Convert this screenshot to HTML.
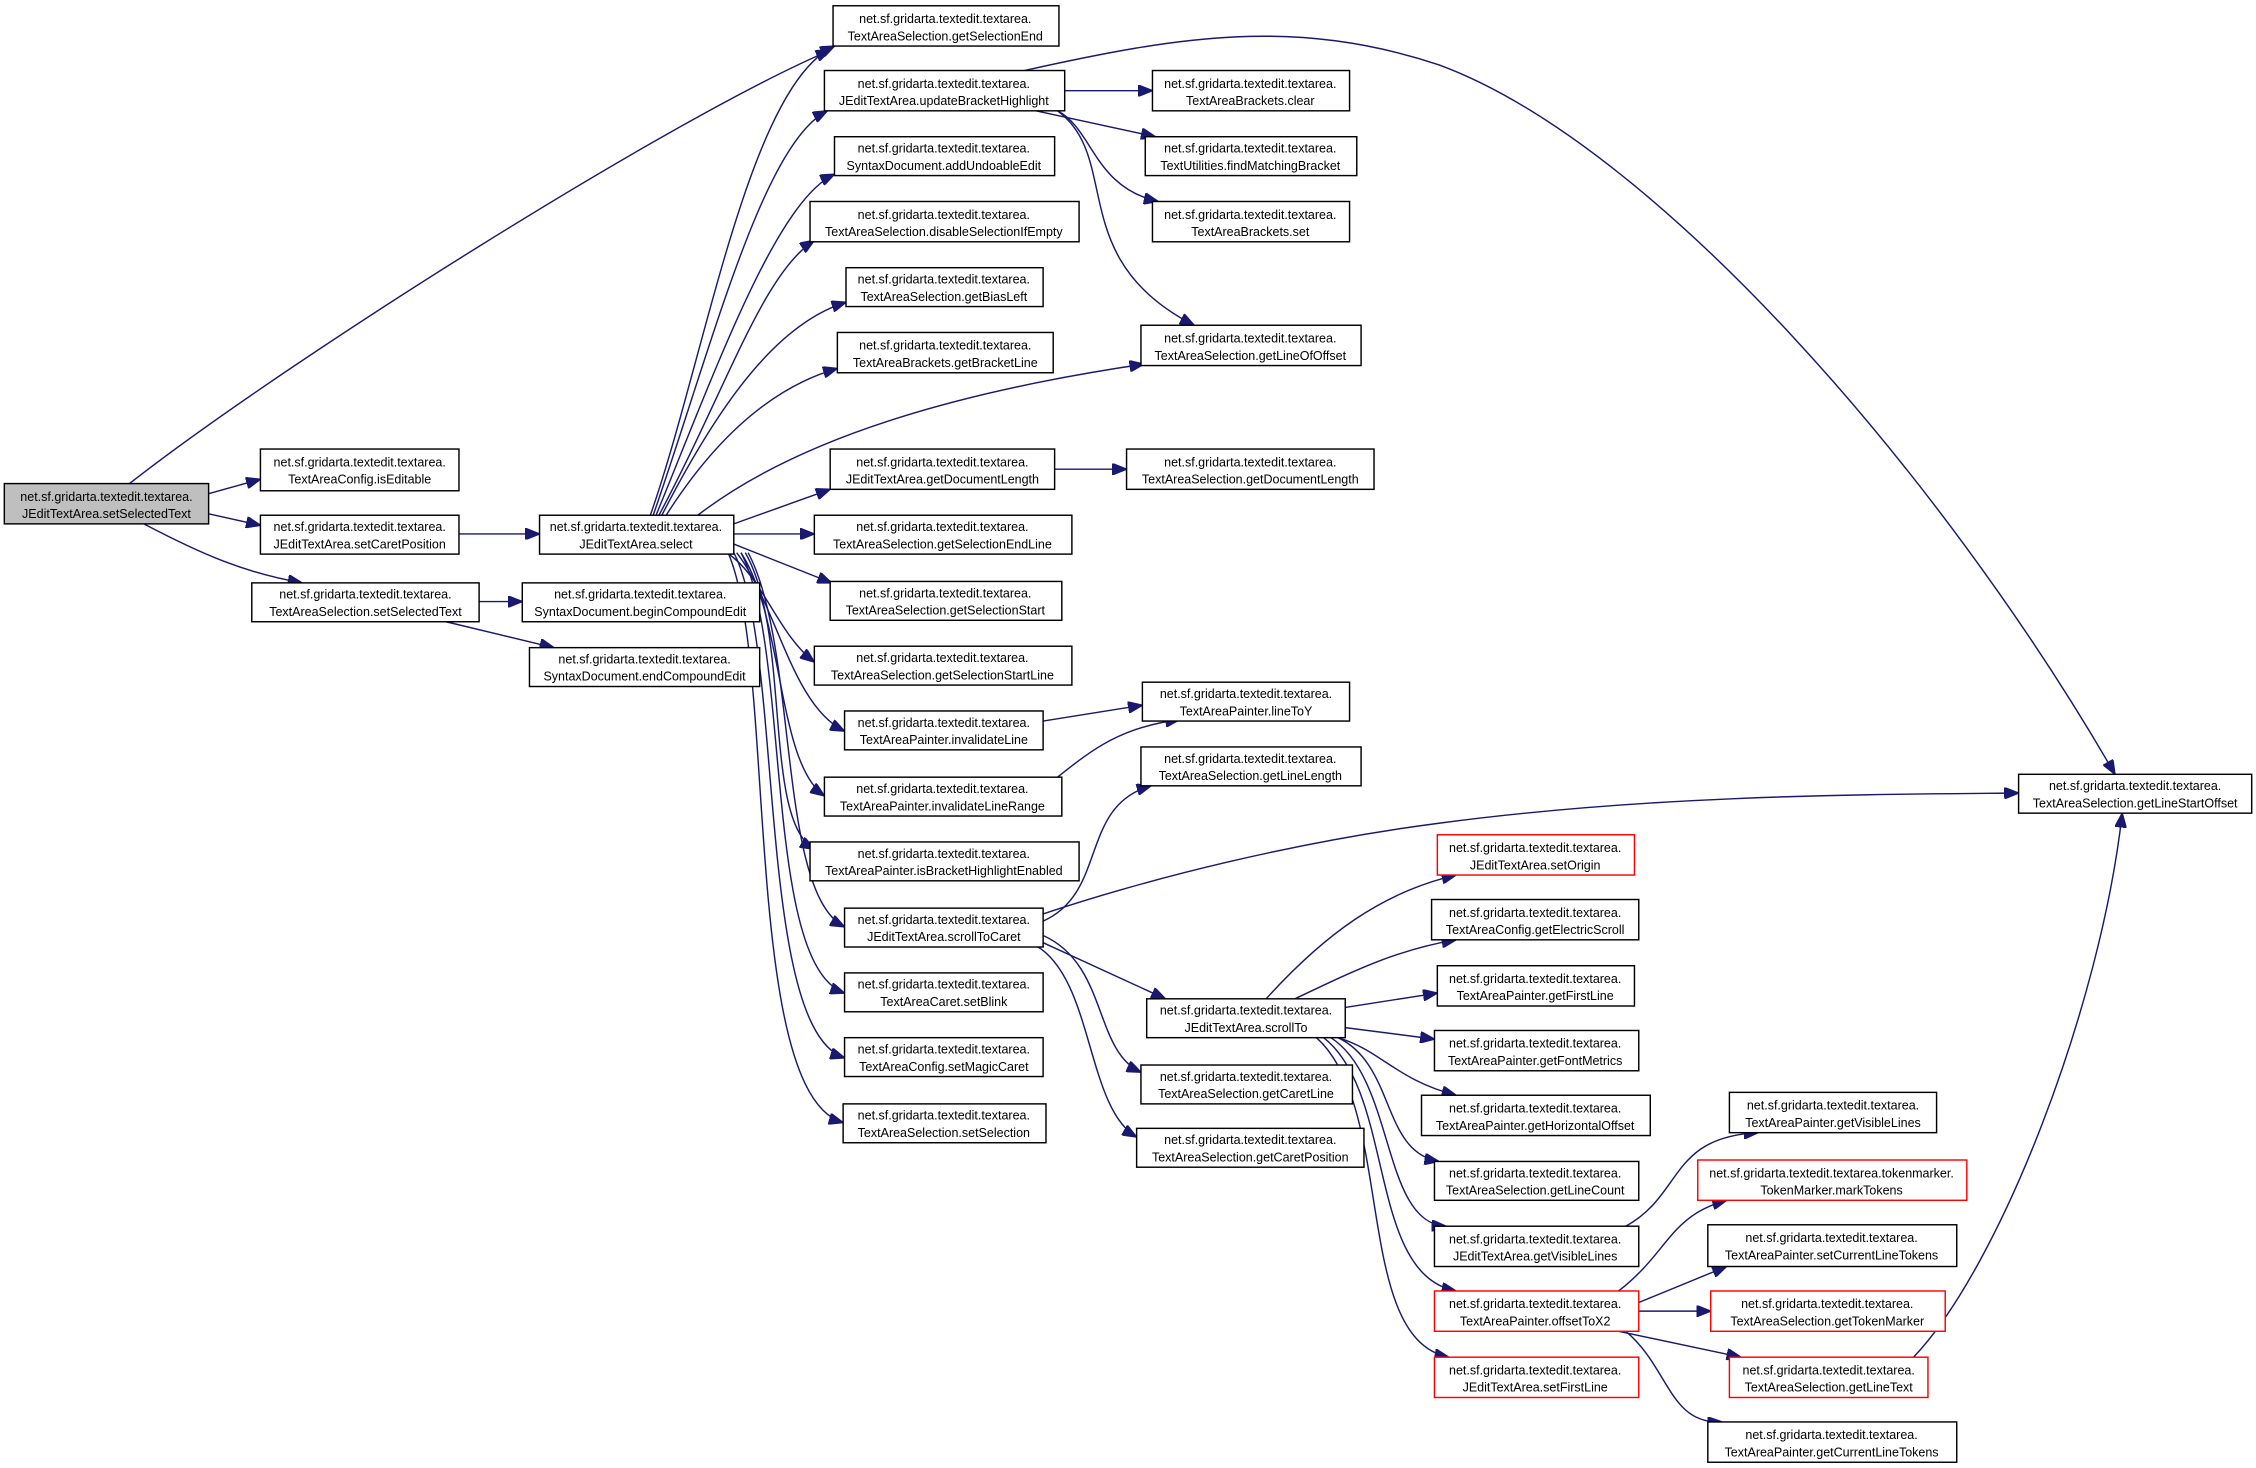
<!DOCTYPE html>
<html><head><meta charset="utf-8"><style>
html,body{margin:0;padding:0;background:#fff;}
svg{display:block;}
text{font-family:"Liberation Sans",Arial,sans-serif;font-size:8.7px;fill:#000;text-anchor:middle;}
rect{fill:#fff;stroke:#000;stroke-width:1;}
rect.r{stroke:#ff0000;}
path{fill:none;stroke:#191970;stroke-width:1;}
</style></head><body>
<svg width="2256" height="1468" viewBox="0 0 1568 1020" preserveAspectRatio="none" xmlns="http://www.w3.org/2000/svg">
<defs><marker id="a" viewBox="0 0 10 8" refX="10" refY="4" markerWidth="10" markerHeight="8" markerUnits="userSpaceOnUse" orient="auto"><path d="M0,0 L10,4 L0,8 Z" style="fill:#191970;stroke:#191970"/></marker></defs>
<g marker-end="url(#a)">
<path d="M90,336 C200,250 470,80 577,35"/>
<path d="M145,343 L181,333"/>
<path d="M145,357 L181,365"/>
<path d="M100,364 C140,385 170,398 210,405"/>
<path d="M319,371 L375,371"/>
<path d="M333,418 L363,418"/>
<path d="M310,432 L385,450"/>
<path d="M452,358 C490,250 520,60 580,32"/>
<path d="M454,358 C495,240 530,100 575,77"/>
<path d="M456,358 C500,250 540,140 580,121"/>
<path d="M458,358 C505,270 530,190 566,167"/>
<path d="M460,358 C500,280 540,225 588,210"/>
<path d="M463,358 C500,300 540,268 582,256"/>
<path d="M485,358 C560,300 680,270 795,253"/>
<path d="M510,364 L577,340"/>
<path d="M510,371 L566,371"/>
<path d="M510,378 L578,405"/>
<path d="M505,384 C530,400 540,440 566,460"/>
<path d="M512,384 C540,420 550,490 587,508"/>
<path d="M515,384 C545,430 540,530 573,553"/>
<path d="M518,384 C550,440 530,570 566,590"/>
<path d="M520,384 C555,450 540,620 587,644"/>
<path d="M515,384 C550,450 530,670 587,690"/>
<path d="M510,384 C545,450 525,715 587,735"/>
<path d="M506,384 C540,460 515,760 586,780"/>
<path d="M740,63 L801,63"/>
<path d="M720,77 L803,95"/>
<path d="M735,77 C760,90 760,130 805,140"/>
<path d="M735,77 C780,110 740,180 830,226"/>
<path d="M712,49 C820,25 900,12 1000,45 C1150,100 1350,330 1470,538"/>
<path d="M733,326 L783,326"/>
<path d="M725,501 L794,490"/>
<path d="M735,540 C760,520 780,505 820,500"/>
<path d="M725,640 C770,620 750,560 800,546"/>
<path d="M725,635 C800,610 900,585 1000,572 C1150,552 1300,552 1403,551"/>
<path d="M725,655 L810,694"/>
<path d="M725,650 C770,670 760,730 793,745"/>
<path d="M720,657 C760,680 755,770 790,790"/>
<path d="M880,694 C920,650 960,620 1012,608"/>
<path d="M900,694 C940,675 970,660 1012,653"/>
<path d="M935,700 L999,690"/>
<path d="M935,714 L997,722"/>
<path d="M930,721 C960,730 970,750 1012,761"/>
<path d="M930,721 C970,740 960,800 1000,807"/>
<path d="M925,721 C970,750 960,850 1005,852"/>
<path d="M920,721 C970,760 950,885 1012,897"/>
<path d="M915,721 C970,770 940,930 1007,943"/>
<path d="M1130,852 C1170,830 1160,790 1222,787"/>
<path d="M1125,897 C1160,870 1160,845 1200,834"/>
<path d="M1139,905 L1200,880"/>
<path d="M1139,911 L1189,911"/>
<path d="M1125,925 L1210,943"/>
<path d="M1130,925 C1160,950 1160,990 1197,988"/>
<path d="M1330,943 C1390,880 1460,700 1475,565"/>
</g>
<rect x="3" y="336" width="142" height="28" style="fill:#bfbfbf"/><text x="74" y="348">net.sf.gridarta.textedit.textarea.</text><text x="74" y="360">JEditTextArea.setSelectedText</text>
<rect x="181" y="312" width="138" height="29"/><text x="250" y="324">net.sf.gridarta.textedit.textarea.</text><text x="250" y="336">TextAreaConfig.isEditable</text>
<rect x="181" y="358" width="138" height="27"/><text x="250" y="369">net.sf.gridarta.textedit.textarea.</text><text x="250" y="381">JEditTextArea.setCaretPosition</text>
<rect x="175" y="405" width="158" height="27"/><text x="254" y="416">net.sf.gridarta.textedit.textarea.</text><text x="254" y="428">TextAreaSelection.setSelectedText</text>
<rect x="375" y="358" width="135" height="27"/><text x="442" y="369">net.sf.gridarta.textedit.textarea.</text><text x="442" y="381">JEditTextArea.select</text>
<rect x="363" y="405" width="165" height="27"/><text x="445" y="416">net.sf.gridarta.textedit.textarea.</text><text x="445" y="428">SyntaxDocument.beginCompoundEdit</text>
<rect x="368" y="450" width="160" height="27"/><text x="448" y="461">net.sf.gridarta.textedit.textarea.</text><text x="448" y="473">SyntaxDocument.endCompoundEdit</text>
<rect x="579" y="4" width="157" height="28"/><text x="657" y="16">net.sf.gridarta.textedit.textarea.</text><text x="657" y="28">TextAreaSelection.getSelectionEnd</text>
<rect x="573" y="49" width="167" height="28"/><text x="656" y="61">net.sf.gridarta.textedit.textarea.</text><text x="656" y="73">JEditTextArea.updateBracketHighlight</text>
<rect x="580" y="95" width="153" height="27"/><text x="656" y="106">net.sf.gridarta.textedit.textarea.</text><text x="656" y="118">SyntaxDocument.addUndoableEdit</text>
<rect x="563" y="140" width="187" height="28"/><text x="656" y="152">net.sf.gridarta.textedit.textarea.</text><text x="656" y="164">TextAreaSelection.disableSelectionIfEmpty</text>
<rect x="588" y="186" width="137" height="27"/><text x="656" y="197">net.sf.gridarta.textedit.textarea.</text><text x="656" y="209">TextAreaSelection.getBiasLeft</text>
<rect x="582" y="231" width="150" height="28"/><text x="657" y="243">net.sf.gridarta.textedit.textarea.</text><text x="657" y="255">TextAreaBrackets.getBracketLine</text>
<rect x="801" y="49" width="137" height="28"/><text x="869" y="61">net.sf.gridarta.textedit.textarea.</text><text x="869" y="73">TextAreaBrackets.clear</text>
<rect x="796" y="95" width="147" height="27"/><text x="869" y="106">net.sf.gridarta.textedit.textarea.</text><text x="869" y="118">TextUtilities.findMatchingBracket</text>
<rect x="801" y="140" width="137" height="28"/><text x="869" y="152">net.sf.gridarta.textedit.textarea.</text><text x="869" y="164">TextAreaBrackets.set</text>
<rect x="793" y="226" width="153" height="28"/><text x="869" y="238">net.sf.gridarta.textedit.textarea.</text><text x="869" y="250">TextAreaSelection.getLineOfOffset</text>
<rect x="577" y="312" width="156" height="28"/><text x="655" y="324">net.sf.gridarta.textedit.textarea.</text><text x="655" y="336">JEditTextArea.getDocumentLength</text>
<rect x="783" y="312" width="172" height="28"/><text x="869" y="324">net.sf.gridarta.textedit.textarea.</text><text x="869" y="336">TextAreaSelection.getDocumentLength</text>
<rect x="566" y="358" width="179" height="27"/><text x="655" y="369">net.sf.gridarta.textedit.textarea.</text><text x="655" y="381">TextAreaSelection.getSelectionEndLine</text>
<rect x="577" y="404" width="161" height="27"/><text x="657" y="415">net.sf.gridarta.textedit.textarea.</text><text x="657" y="427">TextAreaSelection.getSelectionStart</text>
<rect x="566" y="449" width="179" height="27"/><text x="655" y="460">net.sf.gridarta.textedit.textarea.</text><text x="655" y="472">TextAreaSelection.getSelectionStartLine</text>
<rect x="587" y="494" width="138" height="27"/><text x="656" y="505">net.sf.gridarta.textedit.textarea.</text><text x="656" y="517">TextAreaPainter.invalidateLine</text>
<rect x="794" y="474" width="144" height="27"/><text x="866" y="485">net.sf.gridarta.textedit.textarea.</text><text x="866" y="497">TextAreaPainter.lineToY</text>
<rect x="573" y="540" width="165" height="27"/><text x="655" y="551">net.sf.gridarta.textedit.textarea.</text><text x="655" y="563">TextAreaPainter.invalidateLineRange</text>
<rect x="793" y="519" width="153" height="27"/><text x="869" y="530">net.sf.gridarta.textedit.textarea.</text><text x="869" y="542">TextAreaSelection.getLineLength</text>
<rect x="563" y="585" width="187" height="27"/><text x="656" y="596">net.sf.gridarta.textedit.textarea.</text><text x="656" y="608">TextAreaPainter.isBracketHighlightEnabled</text>
<rect x="587" y="631" width="138" height="27"/><text x="656" y="642">net.sf.gridarta.textedit.textarea.</text><text x="656" y="654">JEditTextArea.scrollToCaret</text>
<rect x="587" y="676" width="138" height="27"/><text x="656" y="687">net.sf.gridarta.textedit.textarea.</text><text x="656" y="699">TextAreaCaret.setBlink</text>
<rect x="587" y="721" width="138" height="27"/><text x="656" y="732">net.sf.gridarta.textedit.textarea.</text><text x="656" y="744">TextAreaConfig.setMagicCaret</text>
<rect x="586" y="767" width="141" height="27"/><text x="656" y="778">net.sf.gridarta.textedit.textarea.</text><text x="656" y="790">TextAreaSelection.setSelection</text>
<rect x="797" y="694" width="138" height="27"/><text x="866" y="705">net.sf.gridarta.textedit.textarea.</text><text x="866" y="717">JEditTextArea.scrollTo</text>
<rect x="793" y="740" width="147" height="27"/><text x="866" y="751">net.sf.gridarta.textedit.textarea.</text><text x="866" y="763">TextAreaSelection.getCaretLine</text>
<rect x="790" y="784" width="158" height="27"/><text x="869" y="795">net.sf.gridarta.textedit.textarea.</text><text x="869" y="807">TextAreaSelection.getCaretPosition</text>
<rect x="1403" y="538" width="162" height="27"/><text x="1484" y="549">net.sf.gridarta.textedit.textarea.</text><text x="1484" y="561">TextAreaSelection.getLineStartOffset</text>
<rect class="r" x="999" y="580" width="137" height="28"/><text x="1067" y="592">net.sf.gridarta.textedit.textarea.</text><text x="1067" y="604">JEditTextArea.setOrigin</text>
<rect x="995" y="625" width="144" height="28"/><text x="1067" y="637">net.sf.gridarta.textedit.textarea.</text><text x="1067" y="649">TextAreaConfig.getElectricScroll</text>
<rect x="999" y="671" width="137" height="28"/><text x="1067" y="683">net.sf.gridarta.textedit.textarea.</text><text x="1067" y="695">TextAreaPainter.getFirstLine</text>
<rect x="997" y="716" width="142" height="28"/><text x="1067" y="728">net.sf.gridarta.textedit.textarea.</text><text x="1067" y="740">TextAreaPainter.getFontMetrics</text>
<rect x="988" y="761" width="159" height="28"/><text x="1067" y="773">net.sf.gridarta.textedit.textarea.</text><text x="1067" y="785">TextAreaPainter.getHorizontalOffset</text>
<rect x="997" y="807" width="142" height="27"/><text x="1067" y="818">net.sf.gridarta.textedit.textarea.</text><text x="1067" y="830">TextAreaSelection.getLineCount</text>
<rect x="997" y="852" width="142" height="28"/><text x="1067" y="864">net.sf.gridarta.textedit.textarea.</text><text x="1067" y="876">JEditTextArea.getVisibleLines</text>
<rect class="r" x="997" y="897" width="142" height="28"/><text x="1067" y="909">net.sf.gridarta.textedit.textarea.</text><text x="1067" y="921">TextAreaPainter.offsetToX2</text>
<rect class="r" x="997" y="943" width="142" height="28"/><text x="1067" y="955">net.sf.gridarta.textedit.textarea.</text><text x="1067" y="967">JEditTextArea.setFirstLine</text>
<rect x="1202" y="759" width="144" height="28"/><text x="1274" y="771">net.sf.gridarta.textedit.textarea.</text><text x="1274" y="783">TextAreaPainter.getVisibleLines</text>
<rect class="r" x="1180" y="806" width="187" height="28"/><text x="1273" y="818">net.sf.gridarta.textedit.textarea.tokenmarker.</text><text x="1273" y="830">TokenMarker.markTokens</text>
<rect x="1187" y="851" width="173" height="29"/><text x="1273" y="863">net.sf.gridarta.textedit.textarea.</text><text x="1273" y="875">TextAreaPainter.setCurrentLineTokens</text>
<rect class="r" x="1189" y="897" width="163" height="28"/><text x="1270" y="909">net.sf.gridarta.textedit.textarea.</text><text x="1270" y="921">TextAreaSelection.getTokenMarker</text>
<rect class="r" x="1202" y="943" width="138" height="28"/><text x="1271" y="955">net.sf.gridarta.textedit.textarea.</text><text x="1271" y="967">TextAreaSelection.getLineText</text>
<rect x="1187" y="988" width="173" height="28"/><text x="1273" y="1000">net.sf.gridarta.textedit.textarea.</text><text x="1273" y="1012">TextAreaPainter.getCurrentLineTokens</text>
</svg>
</body></html>
